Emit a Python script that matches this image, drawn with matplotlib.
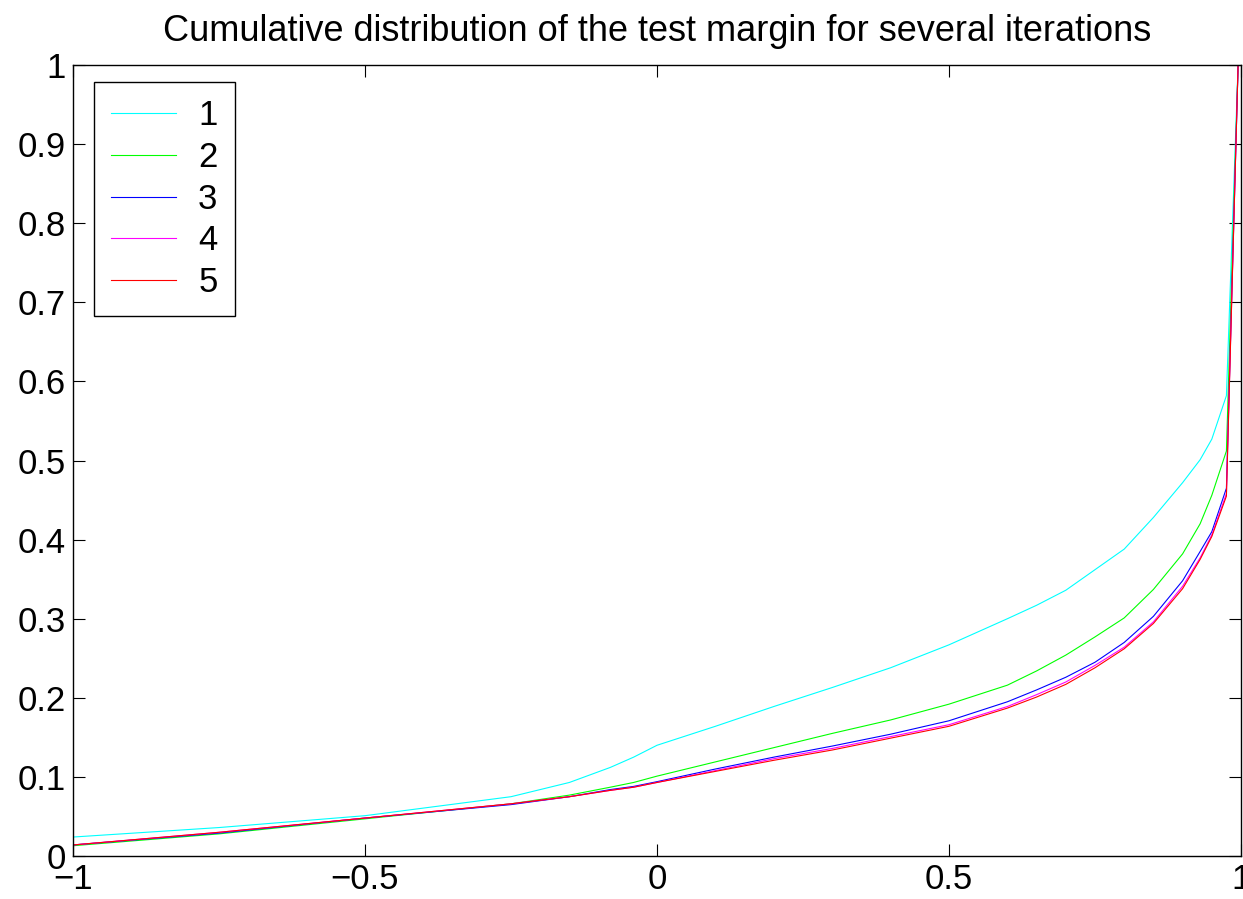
import numpy as np
import matplotlib
matplotlib.use("Agg")
import matplotlib.pyplot as plt

plt.rcParams['font.family'] = ['Liberation Sans', 'DejaVu Sans']

# margin values (x) shared by all curves
margin = [-1.0, -0.75, -0.5, -0.25, -0.15, -0.08, -0.04, 0.0, 0.1, 0.2, 0.3, 0.4,
          0.5, 0.6, 0.65, 0.7, 0.75, 0.8, 0.85, 0.9, 0.93, 0.95, 0.975, 0.995]

# cumulative distribution per iteration
cdf_1 = [0.024, 0.036, 0.051, 0.075, 0.093, 0.112, 0.125, 0.140, 0.164, 0.189, 0.213, 0.238,
         0.267, 0.300, 0.317, 0.336, 0.362, 0.388, 0.428, 0.472, 0.501, 0.527, 0.582, 1.0]
cdf_2 = [0.013, 0.028, 0.047, 0.066, 0.077, 0.087, 0.093, 0.101, 0.119, 0.137, 0.155, 0.172,
         0.192, 0.216, 0.234, 0.254, 0.277, 0.301, 0.337, 0.382, 0.420, 0.456, 0.512, 1.0]
cdf_3 = [0.014, 0.029, 0.048, 0.065, 0.075, 0.084, 0.088, 0.094, 0.110, 0.125, 0.139, 0.154,
         0.171, 0.195, 0.210, 0.226, 0.245, 0.270, 0.303, 0.348, 0.385, 0.410, 0.465, 1.0]
cdf_4 = [0.014, 0.030, 0.048, 0.066, 0.075, 0.083, 0.087, 0.093, 0.108, 0.123, 0.136, 0.151,
         0.166, 0.189, 0.204, 0.220, 0.241, 0.264, 0.296, 0.341, 0.377, 0.406, 0.458, 1.0]
cdf_5 = [0.014, 0.030, 0.048, 0.066, 0.075, 0.083, 0.087, 0.093, 0.107, 0.121, 0.134, 0.149,
         0.164, 0.187, 0.201, 0.217, 0.238, 0.262, 0.294, 0.338, 0.375, 0.404, 0.455, 1.0]

labels = ['1', '2', '3', '4', '5']
colors = ['#00ffff', '#00ff00', '#0000ff', '#ff00ff', '#ff0000']

fig = plt.figure(figsize=(12.43, 8.99), dpi=100)
ax = fig.add_axes([0.0587, 0.0478, 0.9397, 0.8799])

for y, lab, c in zip([cdf_1, cdf_2, cdf_3, cdf_4, cdf_5], labels, colors):
    ax.plot(margin, y, color=c, linewidth=0.8, label=lab)

ax.set_xlim(-1, 1)
ax.set_ylim(0, 1)
ax.set_xticks([-1, -0.5, 0, 0.5, 1])
ax.set_xticklabels(['\u22121', '\u22120.5', '0', '0.5', '1'])
ax.set_yticks(np.arange(0, 1.01, 0.1))
ax.set_yticklabels(['0', '0.1', '0.2', '0.3', '0.4', '0.5', '0.6', '0.7', '0.8', '0.9', '1'])
ax.tick_params(direction='in', length=8.5, width=0.8, labelsize=25, pad=5,
               top=True, right=True)
for s in ax.spines.values():
    s.set_linewidth(1.0)

ax.set_title('Cumulative distribution of the test margin for several iterations',
             fontsize=26, pad=17)

leg = ax.legend(loc='upper left', bbox_to_anchor=(0.018, 0.9785), borderaxespad=0,
                fontsize=25, fancybox=False, edgecolor='black', framealpha=1,
                handlelength=1.87, handletextpad=0.63, labelspacing=0.25, borderpad=0.5)
leg.get_frame().set_linewidth(1.0)

fig.savefig('out.png', dpi=100)
